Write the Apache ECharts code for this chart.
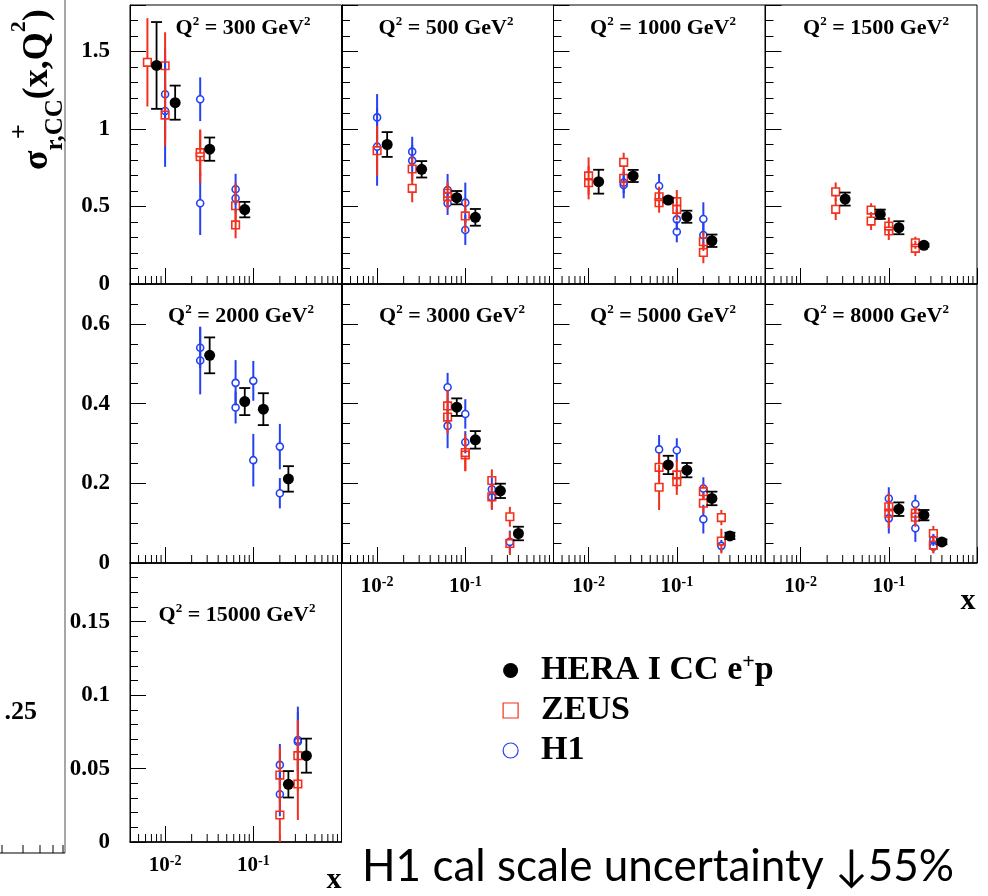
<!DOCTYPE html>
<html>
<head>
<meta charset="utf-8">
<title>HERA I CC e+p</title>
<script src="https://cdn.jsdelivr.net/npm/echarts@6/dist/echarts.min.js"></script>
<style>html,body{margin:0;padding:0;background:#fff}</style>
</head>
<body>
<div id="chart" style="width:988px;height:896px"></div>
<script>
// Q2 of each panel, in reading order
var q2Values = [300, 500, 1000, 1500, 2000, 3000, 5000, 8000, 15000];
// y range per row of panels
var yMax = [1.8, 0.7, 0.19];
var yMajor = [0.5, 0.2, 0.05];
var yMinor = [0.1, 0.05, 0.01];
var xMin = 0.004, xMax = 1;
var xMinorTicks = [0.005, 0.006, 0.007, 0.008, 0.009,
                   0.02, 0.03, 0.04, 0.05, 0.06, 0.07, 0.08, 0.09,
                   0.2, 0.3, 0.4, 0.5, 0.6, 0.7, 0.8, 0.9];

// [x, sigma, error] per panel
var heraPoints = [
    [[0.008, 1.41, 0.28], [0.013, 1.17, 0.11], [0.032, 0.87, 0.075], [0.08, 0.48, 0.05]],
    [[0.013, 0.90, 0.08], [0.032, 0.74, 0.053], [0.08, 0.557, 0.043], [0.13, 0.43, 0.054]],
    [[0.013, 0.66, 0.077], [0.032, 0.697, 0.039], [0.08, 0.542, 0.015], [0.13, 0.434, 0.039], [0.25, 0.279, 0.04]],
    [[0.032, 0.548, 0.042], [0.08, 0.450, 0.03], [0.13, 0.363, 0.042], [0.25, 0.250, 0.01]],
    [[0.032, 0.521, 0.045], [0.08, 0.405, 0.034], [0.13, 0.386, 0.04], [0.25, 0.211, 0.032]],
    [[0.08, 0.391, 0.022], [0.13, 0.309, 0.022], [0.25, 0.181, 0.018], [0.40, 0.074, 0.017]],
    [[0.08, 0.246, 0.023], [0.13, 0.233, 0.018], [0.25, 0.162, 0.017], [0.40, 0.068, 0.008]],
    [[0.13, 0.135, 0.017], [0.25, 0.120, 0.013], [0.40, 0.053, 0.006]],
    [[0.25, 0.0393, 0.009], [0.40, 0.0588, 0.0116]]
];
var zeusPoints = [
    [[0.0063, 1.43, 0.285], [0.01, 1.408, 0.216], [0.01, 1.09, 0.2], [0.025, 0.847, 0.15], [0.025, 0.821, 0.17],
     [0.063, 0.505, 0.145], [0.063, 0.381, 0.086]],
    [[0.01, 0.86, 0.16], [0.025, 0.742, 0.08], [0.025, 0.617, 0.09], [0.063, 0.585, 0.075], [0.063, 0.563, 0.08],
     [0.1, 0.439, 0.107]],
    [[0.01, 0.697, 0.12], [0.01, 0.654, 0.108], [0.025, 0.785, 0.062], [0.025, 0.682, 0.06], [0.063, 0.563, 0.065],
     [0.063, 0.525, 0.065], [0.1, 0.531, 0.075], [0.1, 0.482, 0.07], [0.2, 0.273, 0.06], [0.2, 0.204, 0.07]],
    [[0.025, 0.595, 0.06], [0.025, 0.482, 0.069], [0.063, 0.477, 0.044], [0.063, 0.406, 0.058], [0.1, 0.374, 0.056],
     [0.1, 0.342, 0.058], [0.2, 0.266, 0.039], [0.2, 0.230, 0.049]],
    [],
    [[0.063, 0.394, 0.04], [0.063, 0.366, 0.042], [0.1, 0.277, 0.047], [0.1, 0.271, 0.039], [0.2, 0.207, 0.028],
     [0.2, 0.166, 0.033], [0.32, 0.116, 0.025], [0.32, 0.049, 0.029]],
    [[0.063, 0.240, 0.035], [0.063, 0.190, 0.057], [0.1, 0.221, 0.037], [0.1, 0.204, 0.033], [0.2, 0.179, 0.021],
     [0.2, 0.150, 0.025], [0.32, 0.114, 0.019], [0.32, 0.055, 0.031]],
    [[0.1, 0.141, 0.035], [0.1, 0.125, 0.038], [0.2, 0.125, 0.016], [0.2, 0.115, 0.024], [0.32, 0.074, 0.019],
     [0.32, 0.045, 0.021]],
    [[0.2, 0.0456, 0.019], [0.2, 0.0184, 0.019], [0.32, 0.0588, 0.0243], [0.32, 0.0395, 0.0245]]
];
var h1Points = [
    [[0.01, 1.224, 0.30], [0.01, 1.116, 0.36], [0.025, 1.192, 0.141], [0.025, 0.521, 0.205], [0.063, 0.611, 0.10],
     [0.063, 0.553, 0.09]],
    [[0.01, 1.075, 0.15], [0.01, 0.886, 0.252], [0.025, 0.854, 0.096], [0.025, 0.796, 0.10], [0.063, 0.606, 0.104],
     [0.063, 0.521, 0.076], [0.1, 0.525, 0.129], [0.1, 0.348, 0.096]],
    [[0.025, 0.654, 0.07], [0.025, 0.639, 0.086], [0.063, 0.632, 0.078], [0.1, 0.417, 0.07], [0.1, 0.337, 0.068],
     [0.2, 0.419, 0.108], [0.2, 0.316, 0.08]],
    [],
    [[0.025, 0.540, 0.051], [0.025, 0.508, 0.085], [0.063, 0.452, 0.057], [0.063, 0.390, 0.04], [0.1, 0.457, 0.05],
     [0.1, 0.258, 0.066], [0.2, 0.292, 0.057], [0.2, 0.175, 0.038]],
    [[0.063, 0.441, 0.036], [0.063, 0.344, 0.056], [0.1, 0.374, 0.037], [0.1, 0.303, 0.028], [0.2, 0.185, 0.03],
     [0.2, 0.165, 0.03], [0.32, 0.053, 0.028]],
    [[0.063, 0.285, 0.036], [0.1, 0.283, 0.03], [0.2, 0.187, 0.028], [0.2, 0.110, 0.036], [0.32, 0.043, 0.015]],
    [[0.1, 0.162, 0.028], [0.1, 0.112, 0.038], [0.2, 0.148, 0.023], [0.2, 0.087, 0.034], [0.32, 0.058, 0.015],
     [0.32, 0.041, 0.015]],
    [[0.2, 0.0525, 0.0143], [0.2, 0.0325, 0.015], [0.32, 0.0695, 0.0227], [0.32, 0.0683, 0.02]]
];

var HERA = 'HERA I CC e+p', ZEUS = 'ZEUS', H1 = 'H1';
var RED = '#f2301e', BLUE = '#2441f2';
var SERIF = 'Liberation Serif';

var chart = echarts.init(document.getElementById('chart'));

var colLeft = [130, 342, 553.5, 765.5];
var rowTop = [5, 284, 563];
var panelW = 211.5, panelH = 279;
var titleX = [243, 446, 663, 876, 241, 452, 663, 876, 237];
var titleY = [28, 28, 28, 28, 316, 316, 316, 316, 615];

function xLabel(v) {
    var l = Math.log10(v), e = Math.round(l);
    if (Math.abs(l - e) > 1e-6 || e > -1 || e < -2) return '';
    return '{b|10}{s|' + e + '}';
}

function heraItem(params, api) {
    var x = api.value(0), y = api.value(1), e = api.value(2);
    var c = api.coord([x, y]), t = api.coord([x, y + e]), b = api.coord([x, y - e]);
    var st = {stroke: '#000', lineWidth: 1.8};
    return {type: 'group', children: [
        {type: 'line', shape: {x1: c[0], y1: t[1], x2: c[0], y2: b[1]}, style: st},
        {type: 'line', shape: {x1: c[0] - 5.5, y1: t[1], x2: c[0] + 5.5, y2: t[1]}, style: st},
        {type: 'line', shape: {x1: c[0] - 5.5, y1: b[1], x2: c[0] + 5.5, y2: b[1]}, style: st},
        {type: 'circle', shape: {cx: c[0], cy: c[1], r: 5.5}, style: {fill: '#000'}}
    ]};
}

function openItem(color, square) {
    return function (params, api) {
        var x = api.value(0), y = api.value(1), e = api.value(2);
        var c = api.coord([x, y]), t = api.coord([x, y + e]), b = api.coord([x, y - e]);
        var h = square ? 3.8 : 3.5;
        var st = {stroke: color, lineWidth: 2};
        var kids = [];
        if (t[1] < c[1] - h) kids.push({type: 'line', shape: {x1: c[0], y1: t[1], x2: c[0], y2: c[1] - h}, style: st});
        if (b[1] > c[1] + h) kids.push({type: 'line', shape: {x1: c[0], y1: c[1] + h, x2: c[0], y2: b[1]}, style: st});
        if (square) {
            kids.push({type: 'rect', shape: {x: c[0] - h, y: c[1] - h, width: 2 * h, height: 2 * h},
                       style: {fill: 'none', stroke: color, lineWidth: 1.6}});
        } else {
            kids.push({type: 'circle', shape: {cx: c[0], cy: c[1], r: h},
                       style: {fill: 'none', stroke: color, lineWidth: 1.6}});
        }
        return {type: 'group', children: kids};
    };
}

function minorTickItem(params, api) {
    var p = api.coord([api.value(0), 0]);
    return {type: 'line', shape: {x1: p[0], y1: p[1], x2: p[0], y2: p[1] - 8}, style: {stroke: '#000', lineWidth: 1}};
}

var grids = [], xAxes = [], yAxes = [], series = [], titles = [];
q2Values.forEach(function (q, i) {
    var row = Math.floor(i / 4), col = i % 4;
    var interval = yMajor[row];
    grids.push({left: colLeft[col], top: rowTop[row], width: panelW, height: panelH,
                show: true, borderColor: '#000', borderWidth: 1, outerBoundsMode: 'none'});
    xAxes.push({
        gridIndex: i, type: 'log', logBase: 10, min: xMin, max: xMax,
        axisLine: {show: true, onZero: false, lineStyle: {color: '#000', width: 1.5}},
        axisTick: {show: true, inside: true, length: 16, lineStyle: {color: '#000', width: 1}},
        splitLine: {show: false},
        axisLabel: {
            show: i >= 5, margin: 12, color: '#000', formatter: xLabel,
            rich: {
                b: {fontFamily: SERIF, fontWeight: 'bold', fontSize: 21, lineHeight: 24, color: '#000'},
                s: {fontFamily: SERIF, fontWeight: 'bold', fontSize: 14, lineHeight: 14, verticalAlign: 'top', color: '#000'}
            }
        }
    });
    yAxes.push({
        gridIndex: i, type: 'value', position: 'left', min: 0, max: yMax[row], interval: interval,
        axisLine: {show: true, lineStyle: {color: '#000', width: 1}},
        axisTick: {show: true, inside: true, length: 16, lineStyle: {color: '#000', width: 1}},
        splitLine: {show: false},
        axisLabel: {
            show: col === 0, margin: 20, color: '#000', fontFamily: SERIF, fontWeight: 'bold', fontSize: 23,
            formatter: function (v) {
                var k = v / interval;
                return Math.abs(k - Math.round(k)) > 1e-6 ? '' : String(+v.toFixed(3));
            }
        }
    });
    yAxes.push({
        gridIndex: i, type: 'value', position: 'left', offset: 0, min: 0, max: yMax[row], interval: yMinor[row],
        axisLine: {show: false},
        axisTick: {show: true, inside: true, length: 8, lineStyle: {color: '#000', width: 1}},
        axisLabel: {show: false}, splitLine: {show: false}
    });
    titles.push({
        text: '{a|Q}{s|2}{a| = ' + q + ' GeV}{s|2}',
        left: titleX[i], top: titleY[i], padding: 0,
        textAlign: 'center', textVerticalAlign: 'middle',
        textStyle: {rich: {
            a: {fontFamily: SERIF, fontWeight: 'bold', fontSize: 22, lineHeight: 26, color: '#000'},
            s: {fontFamily: SERIF, fontWeight: 'bold', fontSize: 13, lineHeight: 13, verticalAlign: 'top', color: '#000'}
        }}
    });
    var ax = {xAxisIndex: i, yAxisIndex: 2 * i};
    series.push(Object.assign({type: 'custom', silent: true, data: xMinorTicks.map(function (v) { return [v, 0]; }),
                               encode: {x: 0, y: 1}, renderItem: minorTickItem}, ax));
    if (h1Points[i].length) {
        series.push(Object.assign({type: 'custom', name: H1, clip: true, data: h1Points[i],
                                   encode: {x: 0, y: 1}, renderItem: openItem(BLUE, false)}, ax));
    }
    if (zeusPoints[i].length) {
        series.push(Object.assign({type: 'custom', name: ZEUS, clip: true, data: zeusPoints[i],
                                   encode: {x: 0, y: 1}, renderItem: openItem(RED, true)}, ax));
    }
    series.push(Object.assign({type: 'custom', name: HERA, clip: true, data: heraPoints[i],
                               encode: {x: 0, y: 1}, renderItem: heraItem}, ax));
});

var leftTicks = [2, 23, 40, 53, 63];
var graphics = [
    {type: 'line', shape: {x1: 65, y1: 0, x2: 65, y2: 853}, style: {stroke: '#8a8a8a', lineWidth: 1.5}},
    {type: 'line', shape: {x1: 0, y1: 853, x2: 65, y2: 853}, style: {stroke: '#000', lineWidth: 1.2}},
    {type: 'text', x: 37, y: 712, style: {text: '.25', align: 'right', verticalAlign: 'middle',
        fontFamily: SERIF, fontWeight: 'bold', fontSize: 26, fill: '#000'}},
    {type: 'text', x: 968, y: 601, style: {text: 'x', align: 'center', verticalAlign: 'middle',
        fontFamily: SERIF, fontWeight: 'bold', fontSize: 30, fill: '#000'}},
    {type: 'text', x: 334, y: 880, style: {text: 'x', align: 'center', verticalAlign: 'middle',
        fontFamily: SERIF, fontWeight: 'bold', fontSize: 30, fill: '#000'}},
    {type: 'text', x: 362, y: 867, style: {text: 'H1 cal scale uncertainty \u219355%', align: 'left',
        verticalAlign: 'middle', fontFamily: 'Lato', fontSize: 44, fill: '#000'}},
    {type: 'group', x: 0, y: 170, rotation: Math.PI / 2, children: [
        {type: 'text', x: 0, y: 38, style: {
            text: '{m|\u03c3}{b|r,CC}{m|(x,Q}{p|2}{m|)}', align: 'left', verticalAlign: 'middle',
            rich: {
                m: {fontFamily: SERIF, fontWeight: 'bold', fontSize: 36, lineHeight: 60, fill: '#000'},
                b: {fontFamily: SERIF, fontWeight: 'bold', fontSize: 25, lineHeight: 25, verticalAlign: 'bottom', fill: '#000'},
                p: {fontFamily: SERIF, fontWeight: 'bold', fontSize: 22, lineHeight: 22, verticalAlign: 'top', fill: '#000'}
            }}},
        {type: 'text', x: 31, y: 20, style: {text: '+', align: 'left', verticalAlign: 'middle',
            fontFamily: SERIF, fontWeight: 'bold', fontSize: 26, fill: '#000'}}
    ]}
];
leftTicks.forEach(function (x) {
    graphics.push({type: 'line', shape: {x1: x, y1: 853, x2: x, y2: 845}, style: {stroke: '#000', lineWidth: 1}});
});

chart.setOption({
    backgroundColor: '#fff',
    animation: false,
    title: titles,
    grid: grids,
    xAxis: xAxes,
    yAxis: yAxes,
    legend: {
        orient: 'vertical', left: 497.5, top: 646.5, itemWidth: 15, itemHeight: 15, itemGap: 6,
        selectedMode: false,
        data: [
            {name: HERA, icon: 'circle', itemStyle: {color: '#000'}},
            {name: ZEUS, icon: 'rect', itemStyle: {color: '#fff', borderColor: RED, borderWidth: 1.2}},
            {name: H1, icon: 'circle', itemStyle: {color: '#fff', borderColor: BLUE, borderWidth: 1.2}}
        ],
        formatter: function (name) {
            return name === HERA ? '{a|HERA I CC e}{s|+}{a|p}' : '{a|' + name + '}';
        },
        textStyle: {
            padding: [0, 0, 0, 18],
            rich: {
                a: {fontFamily: SERIF, fontWeight: 'bold', fontSize: 34, lineHeight: 38, color: '#000'},
                s: {fontFamily: SERIF, fontWeight: 'bold', fontSize: 22, lineHeight: 22, verticalAlign: 'top', color: '#000'}
            }
        }
    },
    graphic: graphics,
    series: series
});
</script>
</body>
</html>
